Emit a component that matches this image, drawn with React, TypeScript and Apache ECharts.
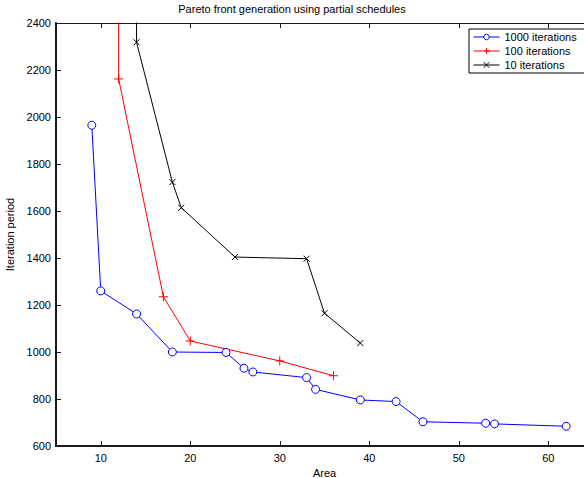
import React, { useEffect, useRef } from 'react';
import * as echarts from 'echarts';

const areas1000 = [9, 10, 14, 18, 24, 26, 27, 33, 34, 39, 43, 46, 53, 54, 62];
const period1000 = [1965, 1260, 1162, 1000, 998, 931, 915, 891, 841, 796, 789, 703, 697, 694, 684];
const areas100 = [12, 12, 17, 20, 30, 36];
const period100 = [2700, 2162, 1235, 1047, 962, 899];
const areas10 = [14, 14, 18, 19, 25, 33, 35, 39];
const period10 = [2700, 2318, 1723, 1614, 1404, 1397, 1165, 1038];
const xTickValues = [10, 20, 30, 40, 50, 60];
const seriesNames = ['1000 iterations', '100 iterations', '10 iterations'];

const FONT = '"Liberation Sans", Arial, Helvetica, sans-serif';
const PLUS = 'path://M5,0L5,10M0,5L10,5';
const CROSS = 'path://M0,0L10,10M0,10L10,0';

export default function App() {
  const ref = useRef<HTMLDivElement>(null);
  useEffect(() => {
    if (!ref.current) return;
    const chart = echarts.init(ref.current, null, { renderer: 'svg' });
    const pair = (xs: number[], ys: number[]) => xs.map((x, i) => [x, ys[i]]);
    chart.setOption({
      animation: false,
      backgroundColor: '#fff',
      textStyle: { fontFamily: FONT },
      title: {
        text: 'Pareto front generation using partial schedules',
        left: 'center',
        top: 3,
        padding: 0,
        textStyle: { fontFamily: FONT, fontSize: 11, fontWeight: 'normal', color: '#000' },
      },
      legend: {
        orient: 'vertical',
        left: 469,
        top: 29,
        borderColor: '#000',
        borderWidth: 1,
        borderRadius: 0,
        padding: [1, 10, 1, 4],
        itemGap: 0,
        itemWidth: 26,
        itemHeight: 7,
        lineStyle: { width: 1 },
        itemStyle: { borderWidth: 1 },
        textStyle: { fontFamily: FONT, fontSize: 11, color: '#000', lineHeight: 14 },
        data: seriesNames,
      },
      grid: { left: 56, top: 23, width: 537, height: 423, containLabel: false, outerBoundsMode: 'none' },
      xAxis: [
        {
          type: 'value',
          min: 5,
          max: 65,
          name: 'Area',
          nameLocation: 'middle',
          nameGap: 16,
          nameTextStyle: { fontFamily: FONT, fontSize: 11, color: '#000' },
          axisLine: { show: true, onZero: false, lineStyle: { color: '#1a1a1a', width: 2 } },
          axisTick: { show: true, inside: true, length: 5, customValues: xTickValues, lineStyle: { color: '#1a1a1a' } },
          axisLabel: { customValues: xTickValues, fontFamily: FONT, fontSize: 11, color: '#000', margin: 6 },
          splitLine: { show: false },
        },
        {
          type: 'value',
          position: 'top',
          min: 5,
          max: 65,
          axisLine: { show: true, onZero: false, lineStyle: { color: '#1a1a1a', width: 1 } },
          axisTick: { show: true, inside: true, length: 5, customValues: xTickValues, lineStyle: { color: '#1a1a1a' } },
          axisLabel: { show: false },
          splitLine: { show: false },
        },
      ],
      yAxis: {
        type: 'value',
        min: 600,
        max: 2400,
        interval: 200,
        name: 'Iteration period',
        nameLocation: 'middle',
        nameGap: 38,
        nameTextStyle: { fontFamily: FONT, fontSize: 11, color: '#000' },
        axisLine: { show: true, onZero: false, lineStyle: { color: '#1a1a1a', width: 2 } },
        axisTick: { show: true, inside: true, length: 5, lineStyle: { color: '#1a1a1a' } },
        axisLabel: { fontFamily: FONT, fontSize: 11, color: '#000', margin: 5, formatter: (v: number) => String(v) },
        splitLine: { show: false },
      },
      series: [
        {
          name: seriesNames[0],
          type: 'line',
          data: pair(areas1000, period1000),
          symbol: 'circle',
          symbolSize: 8,
          lineStyle: { color: '#0000ff', width: 1 },
          itemStyle: { color: '#ffffff', borderColor: '#0000ff', borderWidth: 1 },
          clip: true,
        },
        {
          name: seriesNames[1],
          type: 'line',
          data: pair(areas100, period100),
          symbol: PLUS,
          symbolSize: 9,
          lineStyle: { color: '#ff0000', width: 1 },
          itemStyle: { color: '#ff0000', borderColor: '#ff0000', borderWidth: 1 },
          clip: true,
        },
        {
          name: seriesNames[2],
          type: 'line',
          data: pair(areas10, period10),
          symbol: CROSS,
          symbolSize: 6,
          lineStyle: { color: '#000000', width: 1 },
          itemStyle: { color: '#000000', borderColor: '#000000', borderWidth: 1 },
          clip: true,
        },
      ],
    });
    return () => chart.dispose();
  }, []);
  return (
    <div
      ref={ref}
      style={{ position: 'absolute', left: 0, top: 0, width: 584, height: 478, background: '#fff' }}
    />
  );
}
